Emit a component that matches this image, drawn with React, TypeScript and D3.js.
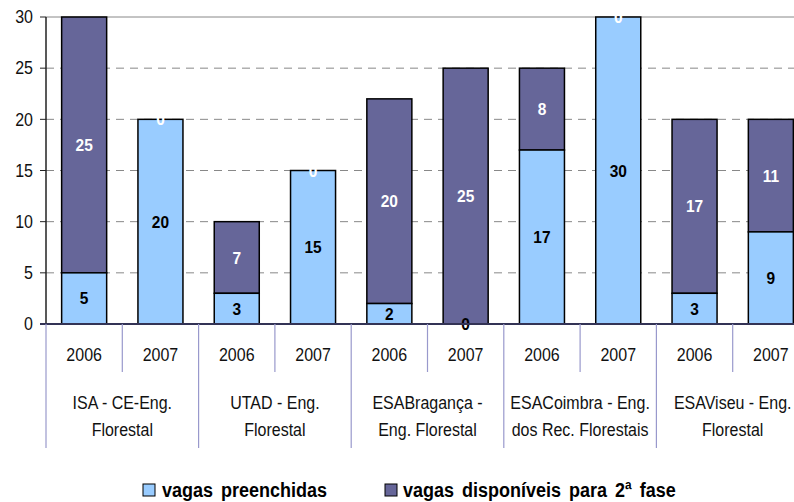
import React from 'react'
import * as d3 from 'd3'

const schools = [
  ['ISA - CE-Eng.', 'Florestal'],
  ['UTAD - Eng.', 'Florestal'],
  ['ESABragança -', 'Eng. Florestal'],
  ['ESACoimbra - Eng.', 'dos Rec. Florestais'],
  ['ESAViseu - Eng.', 'Florestal'],
]
const years = ['2006', '2007']
const filled = [5, 20, 3, 15, 2, 0, 17, 30, 3, 9]
const available = [25, 0, 7, 0, 20, 25, 8, 0, 17, 11]
const yTicks = [0, 5, 10, 15, 20, 25, 30]

const FILL_COLOR = '#99ccff'
const AVAIL_COLOR = '#666699'
const FONT = '"Liberation Sans", Arial, sans-serif'

// text slightly stretched vertically, like the original export
const T = ({ x, y, children, anchor = 'middle', size = 16, bold = false, fill = '#111', sy = 1.12, ws = 0 }: any) =>
  <text transform={`translate(${x},${y}) scale(1,${sy})`} dy="0.35em" textAnchor={anchor} wordSpacing={ws}
        fontSize={size} fontWeight={bold ? 'bold' : 'normal'} fill={fill}>{children}</text>

export default function App() {
  const width = 794
  const height = 502
  const left = 46
  const top = 17
  const bottom = 324

  const idx = d3.range(filled.length)
  const x = d3.scaleBand<number>().domain(idx).range([left, 809]).paddingInner(0.41).paddingOuter(0.205)
  const y = d3.scaleLinear().domain([0, 30]).range([bottom, top])
  const step = x.step()

  return <svg width={width} height={height} style={{ position: 'absolute', left: 0, top: 0, fontFamily: FONT }}>
    <rect width={width} height={height} fill="white" />
    {yTicks.map(t => <g key={t}>
      {t > 0 && <line x1={left} x2={width} y1={y(t)} y2={y(t)}
        stroke="#888" strokeWidth={1} strokeDasharray={t === 30 ? undefined : '8 6'} />}
      <line x1={left - 6} x2={left} y1={y(t)} y2={y(t)} stroke="#222" />
      <T x={33} y={y(t)} anchor="end">{t}</T>
    </g>)}

    {idx.map(i => {
      const bx = x(i)!
      const bw = x.bandwidth()
      const f = filled[i]
      const a = available[i]
      const cx = bx + bw / 2
      return <g key={i}>
        {a > 0 && <rect x={bx} y={y(f + a)} width={bw} height={y(f) - y(f + a)} fill={AVAIL_COLOR} stroke="#000" strokeWidth={1.5} />}
        {f > 0 && <rect x={bx} y={y(f)} width={bw} height={y(0) - y(f)} fill={FILL_COLOR} stroke="#000" strokeWidth={1.5} />}
        <T x={cx} y={(y(0) + y(f)) / 2} size={15.5} bold fill="#000">{f}</T>
        <T x={cx} y={(y(f) + y(f + a)) / 2} size={15.5} bold fill="#fff">{a}</T>
      </g>
    })}

    <line x1={left} x2={left} y1={top} y2={bottom} stroke="#222" strokeWidth={1.5} />
    <line x1={left - 6} x2={width} y1={bottom} y2={bottom} stroke="#333355" strokeWidth={2} />

    {idx.map(i => {
      const sx = left + i * step
      const isGroupStart = i % 2 === 0
      return <g key={'sep' + i}>
        <line x1={sx} x2={sx} y1={bottom} y2={isGroupStart ? 448 : 372} stroke="#9999cc" strokeWidth={1.2} />
        <T x={sx + step / 2} y={355}>{years[i % 2]}</T>
      </g>
    })}
    {schools.map((s, g) => {
      const cx = left + (g * 2 + 1) * step
      return <g key={'sch' + g}>
        {s.map((line, k) => <T key={k} x={cx} y={403 + k * 27}>{line}</T>)}
      </g>
    })}

    <rect x={143} y={484} width={12} height={12} fill={FILL_COLOR} stroke="#000" />
    <T x={162} y={490} anchor="start" size={18} bold fill="#000" ws={3}>vagas preenchidas</T>
    <rect x={385} y={484} width={12} height={12} fill={AVAIL_COLOR} stroke="#000" />
    <T x={403} y={490} anchor="start" size={18} bold fill="#000" ws={3}>vagas disponíveis para 2ª fase</T>
  </svg>
}
